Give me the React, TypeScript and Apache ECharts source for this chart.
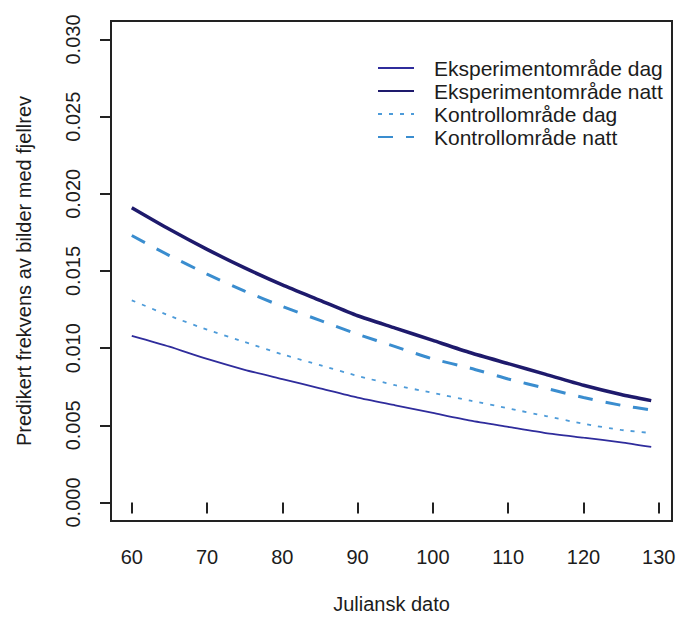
import React, { useEffect, useRef } from "react";
import * as echarts from "echarts";

// Julian day at which each prediction was read
const days = [60, 65, 70, 75, 80, 85, 90, 95, 100, 105, 110, 115, 120, 125, 129];

// Predicted frequency of images with arctic fox
const eksperimentDag = [0.0108, 0.0101, 0.0093, 0.0086, 0.0080, 0.0074, 0.0068, 0.0063, 0.0058, 0.0053, 0.0049, 0.0045, 0.0042, 0.0039, 0.0036];
const eksperimentNatt = [0.0191, 0.0177, 0.0164, 0.0152, 0.0141, 0.0131, 0.0121, 0.0113, 0.0105, 0.0097, 0.0090, 0.0083, 0.0076, 0.0070, 0.0066];
const kontrollDag = [0.0131, 0.0121, 0.0112, 0.0104, 0.0096, 0.0089, 0.0082, 0.0076, 0.0071, 0.0066, 0.0061, 0.0056, 0.0051, 0.0047, 0.0045];
const kontrollNatt = [0.0173, 0.0160, 0.0148, 0.0137, 0.0127, 0.0118, 0.0109, 0.0101, 0.0093, 0.0087, 0.0080, 0.0074, 0.0068, 0.0063, 0.0060];

const seriesNames = [
  "Eksperimentområde dag",
  "Eksperimentområde natt",
  "Kontrollområde dag",
  "Kontrollområde natt",
];

const xTicks = [60, 70, 80, 90, 100, 110, 120, 130];
const yTicks = [0, 0.005, 0.01, 0.015, 0.02, 0.025, 0.03];

const FONT = "'Liberation Sans', Arial, sans-serif";
const INK = "#1c1c1c";

const pairs = (ys: number[]) => days.map((d, i) => [d, ys[i]]);

export default function App() {
  const ref = useRef<HTMLDivElement>(null);

  useEffect(() => {
    if (!ref.current) return;
    const chart = echarts.init(ref.current, null, { renderer: "svg" });

    const line = (
      name: string,
      ys: number[],
      color: string,
      width: number,
      type: any
    ) => ({
      name,
      type: "line",
      data: pairs(ys),
      showSymbol: false,
      symbol: "none",
      smooth: 0.2,
      lineStyle: { color, width, type },
      itemStyle: { color },
      z: 3,
    });

    chart.setOption({
      animation: false,
      backgroundColor: "#ffffff",
      textStyle: { fontFamily: FONT },
      grid: {
        left: 111,
        right: 7,
        top: 21,
        bottom: 97,
        show: true,
        borderColor: "#222222",
        borderWidth: 2,
        backgroundColor: "transparent",
      },
      legend: {
        orient: "vertical",
        left: 377,
        top: 57,
        padding: 0,
        itemWidth: 36,
        itemHeight: 12,
        itemGap: 1,
        data: seriesNames,
        itemStyle: { opacity: 0 },
        textStyle: {
          fontFamily: FONT,
          fontSize: 21,
          color: INK,
          lineHeight: 22,
          padding: [0, 0, 0, 15],
        },
        selectedMode: false,
      },
      xAxis: {
        type: "value",
        min: 57.24,
        max: 131.76,
        name: "Juliansk dato",
        nameLocation: "middle",
        nameGap: 73,
        nameTextStyle: { fontFamily: FONT, fontSize: 20, color: INK },
        axisLine: { show: false },
        axisTick: {
          show: true,
          length: 11,
          customValues: xTicks,
          lineStyle: { color: "#222222", width: 2 },
        },
        axisLabel: {
          customValues: xTicks,
          margin: 26,
          fontFamily: FONT,
          fontSize: 20,
          color: INK,
          formatter: (v: number) => String(v),
        },
        splitLine: { show: false },
      },
      yAxis: {
        type: "value",
        min: -0.0012,
        max: 0.0312,
        name: "Predikert frekvens av bilder med fjellrev",
        nameLocation: "middle",
        nameRotate: 90,
        nameGap: 77,
        nameTextStyle: { fontFamily: FONT, fontSize: 20, color: INK },
        axisLine: { show: false },
        axisTick: {
          show: true,
          length: 11,
          customValues: yTicks,
          lineStyle: { color: "#222222", width: 2 },
        },
        axisLabel: {
          customValues: yTicks,
          rotate: 90,
          margin: 28,
          fontFamily: FONT,
          fontSize: 20,
          color: INK,
          formatter: (v: number) => v.toFixed(3),
        },
        splitLine: { show: false },
      },
      series: [
        line(seriesNames[0], eksperimentDag, "#2f2c9c", 1.8, "solid"),
        line(seriesNames[1], eksperimentNatt, "#1e1a6c", 3.5, "solid"),
        line(seriesNames[2], kontrollDag, "#4d9bd9", 1.8, [4, 7]),
        line(seriesNames[3], kontrollNatt, "#3a8dcf", 3, [15, 13]),
      ],
    });

    return () => chart.dispose();
  }, []);

  return (
    <div
      ref={ref}
      style={{
        position: "absolute",
        left: 0,
        top: 0,
        width: 679,
        height: 619,
        background: "#ffffff",
      }}
    />
  );
}
